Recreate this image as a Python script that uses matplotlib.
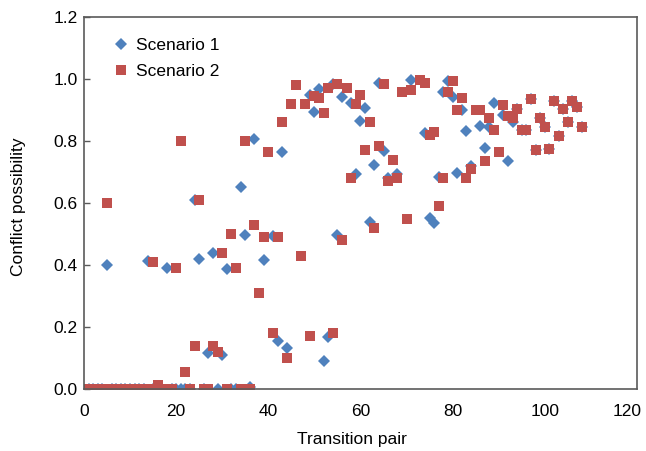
import matplotlib.pyplot as plt
from matplotlib.transforms import ScaledTranslation

plt.rcParams["font.family"] = ["Liberation Sans", "DejaVu Sans"]

# Scenario 1 (blue diamonds)
s1_pair = [1, 2, 3, 4, 5, 6, 7, 8, 9, 10, 11, 12, 13, 14, 15, 16, 17, 18, 19, 20,
           21, 22, 23, 24, 25, 26, 27, 28, 29, 30, 31, 32, 33, 34, 35, 36, 37, 39, 41, 42,
           43, 44, 49, 50, 51, 52, 53, 54, 55, 56, 58, 59, 60, 61, 62, 63, 64, 65, 66, 68,
           71, 74, 75, 76, 77, 78, 79, 80, 81, 82, 83, 84, 86, 87, 88, 89, 91, 92, 93,
           94, 95, 96, 97, 98, 99, 100, 101, 102, 103, 104, 105, 106, 107, 108]
s1_value = [0, 0, 0, 0, 0.40, 0, 0, 0, 0, 0, 0, 0, 0, 0.413, 0, 0.01, 0, 0.39, 0, 0,
            0, 0, 0, 0.61, 0.42, 0, 0.116, 0.44, 0, 0.11, 0.387, 0, 0, 0.652, 0.497, 0.005, 0.806, 0.415, 0.493, 0.155,
            0.765, 0.133, 0.948, 0.894, 0.968, 0.09, 0.168, 0.984, 0.497, 0.942, 0.923, 0.694, 0.865, 0.906, 0.538, 0.723, 0.987, 0.768, 0.68, 0.694,
            0.997, 0.826, 0.552, 0.535, 0.684, 0.958, 0.994, 0.942, 0.697, 0.90, 0.832, 0.719, 0.848, 0.777, 0.845, 0.923, 0.884, 0.735, 0.861,
            0.905, 0.835, 0.835, 0.935, 0.77, 0.875, 0.845, 0.775, 0.93, 0.815, 0.905, 0.86, 0.93, 0.91, 0.845]

# Scenario 2 (red squares)
s2_pair = [1, 2, 3, 4, 5, 6, 7, 8, 9, 10, 11, 12, 13, 14, 15, 16, 17, 18, 19, 20,
           21, 22, 23, 24, 25, 26, 27, 28, 29, 30, 31, 32, 33, 34, 35, 36, 37, 38, 39, 40,
           41, 42, 43, 44, 45, 46, 47, 48, 49, 50, 51, 52, 53, 54, 55, 56, 57, 58, 59, 60,
           61, 62, 63, 64, 65, 66, 67, 68, 69, 70, 71, 73, 74, 75, 76, 77, 78, 79, 80,
           81, 82, 83, 84, 85, 86, 87, 88, 89, 90, 91, 92, 93, 94, 95, 96, 97, 98, 99, 100,
           101, 102, 103, 104, 105, 106, 107, 108]
s2_value = [0, 0, 0, 0, 0.60, 0, 0, 0, 0, 0, 0, 0, 0, 0, 0.41, 0.013, 0, 0, 0, 0.39,
            0.80, 0.055, 0, 0.14, 0.61, 0, 0, 0.14, 0.12, 0.44, 0, 0.50, 0.39, 0, 0.80, 0, 0.53, 0.31, 0.49, 0.765,
            0.18, 0.49, 0.86, 0.10, 0.92, 0.98, 0.43, 0.92, 0.17, 0.945, 0.94, 0.89, 0.97, 0.18, 0.985, 0.48, 0.97, 0.68, 0.92, 0.95,
            0.77, 0.86, 0.52, 0.785, 0.985, 0.67, 0.74, 0.68, 0.96, 0.55, 0.965, 0.997, 0.987, 0.82, 0.83, 0.59, 0.68, 0.96, 0.995,
            0.90, 0.94, 0.68, 0.71, 0.90, 0.90, 0.735, 0.875, 0.835, 0.765, 0.915, 0.88, 0.875, 0.905, 0.835, 0.835, 0.935, 0.77, 0.875, 0.845,
            0.775, 0.93, 0.815, 0.905, 0.86, 0.93, 0.91, 0.845]

fig, ax = plt.subplots(figsize=(6.46, 4.51), dpi=100)
fig.subplots_adjust(left=0.130, right=0.986, bottom=0.1375, top=0.962)

ax.plot(s1_pair, s1_value, linestyle="none", marker="D", markersize=6.6,
        color="#4F81BD", markeredgewidth=0, label="Scenario 1")
ax.plot(s2_pair, s2_value, linestyle="none", marker="s", markersize=7.3,
        color="#C0504D", markeredgewidth=0, label="Scenario 2")

ax.set_xlim(0, 120)
ax.set_ylim(0, 1.2)
ax.set_xticks(range(0, 121, 20))
ax.set_yticks([0.0, 0.2, 0.4, 0.6, 0.8, 1.0, 1.2])
ax.set_yticklabels([f"{v:.1f}" for v in ax.get_yticks()])

for side in ["left", "bottom", "top", "right"]:
    ax.spines[side].set_color("#5a5a5a")
    ax.spines[side].set_linewidth(1.2)
ax.tick_params(axis="y", direction="in", length=4, width=1.0, color="#5a5a5a",
               labelsize=12.5, pad=4.5)
ax.tick_params(axis="x", length=0, labelsize=12.5, pad=11)

# last x tick label pulled inside the figure, like the original
last = ax.get_xticklabels()[-1]
last.set_horizontalalignment("right")
last.set_transform(last.get_transform() + ScaledTranslation(5 / 100, 0, fig.dpi_scale_trans))

ax.set_xlabel("Transition pair", fontsize=12.5)
ax.set_ylabel("Conflict possibility", fontsize=12.5)
ax.xaxis.set_label_coords(0.485, -0.115)
ax.yaxis.set_label_coords(-0.105, 0.49)

ax.legend(loc="upper left", bbox_to_anchor=(0.035, 0.962), frameon=False,
          fontsize=12.5, handletextpad=0.3, borderaxespad=0, labelspacing=0.62,
          handlelength=1.2)

plt.savefig("out.png", dpi=100)
